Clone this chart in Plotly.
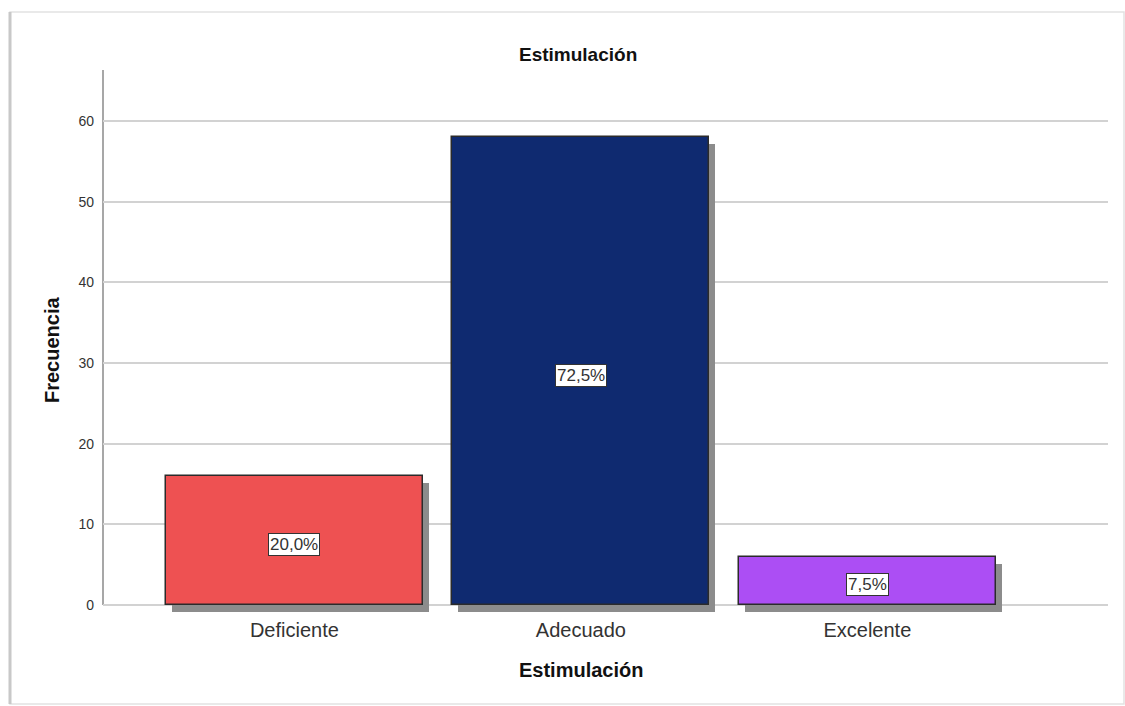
import plotly.graph_objects as go

categories = ["Deficiente", "Adecuado", "Excelente"]
frequencies = [16, 58, 6]
bar_colors = ["#EE5152", "#0F2A70", "#AC4EF4"]
y_ticks = [0, 10, 20, 30, 40, 50, 60]
title_text = "Estimulación"
x_title = "Estimulación"
y_title = "Frecuencia"

total = sum(frequencies)
pct_labels = [f"{v / total * 100:.1f}%".replace(".", ",") for v in frequencies]

W, H = 1125, 706
L, R, T, B = 103, 17, 70, 93
pw, ph = W - L - R, H - T - B
ymin, ymax = -1.0, 66.32
px_per_unit_y = ph / (ymax - ymin)
xmin, xmax = -0.668, 2.84
px_per_unit_x = pw / (xmax - xmin)
bar_w = 0.897
sdx = 6 / px_per_unit_x
sdy = 7 / px_per_unit_y

FONT = "Liberation Sans, Arial"

fig = go.Figure()
# shadows
fig.add_trace(go.Bar(
    x=list(range(len(categories))), y=frequencies, base=[-sdy] * len(frequencies),
    width=bar_w, offset=-bar_w / 2 + sdx,
    marker=dict(color="#8C8C8C", line=dict(width=0)),
    hoverinfo="skip", showlegend=False,
))
# main bars
fig.add_trace(go.Bar(
    x=list(range(len(categories))), y=frequencies, width=bar_w,
    marker=dict(color=bar_colors, line=dict(color="#2b2b2b", width=1.5)),
    showlegend=False,
))

for i, (v, t) in enumerate(zip(frequencies, pct_labels)):
    fig.add_annotation(
        x=i, y=v / 2, xref="x", yref="y", text=t, showarrow=False, yshift=-4,
        font=dict(family=FONT, size=17, color="#333333"),
        bgcolor="white", bordercolor="#333333", borderwidth=1, borderpad=1,
    )

# axis lines
fig.add_shape(type="line", xref="x domain", x0=0, x1=1, yref="y", y0=0, y1=0,
              line=dict(color="#8a8a8a", width=1.5), layer="below")
fig.add_shape(type="line", xref="x domain", x0=0, x1=0, yref="y", y0=0, y1=ymax,
              line=dict(color="#8a8a8a", width=1.5), layer="below")

# outer frame
fx0 = (10 - L) / pw
fx1 = (1124 - L) / pw
fy1 = (H - B - 12) / ph
fy0 = (H - B - 704) / ph
fig.add_shape(type="rect", xref="paper", yref="paper", x0=fx0, x1=fx1, y0=fy0, y1=fy1,
              line=dict(color="#e2e2e2", width=1.5), layer="below")
fig.add_shape(type="line", xref="paper", yref="paper", x0=fx0, x1=fx0, y0=fy0, y1=fy1,
              line=dict(color="#c8c8c8", width=3), layer="below")

title_x = (578 - L) / pw
fig.add_annotation(text=f"<b>{title_text}</b>", xref="paper", yref="paper",
                   x=title_x, y=(H - B - 54) / ph, showarrow=False, xanchor="center", yanchor="middle",
                   font=dict(family=FONT, size=19, color="#111111"))
fig.add_annotation(text=f"<b>{x_title}</b>", xref="paper", yref="paper",
                   x=(581 - L) / pw, y=(H - B - 670) / ph, showarrow=False, xanchor="center", yanchor="middle",
                   font=dict(family=FONT, size=20, color="#111111"))
fig.add_annotation(text=f"<b>{y_title}</b>", xref="paper", yref="paper",
                   x=(52 - L) / pw, y=(H - B - 350) / ph, showarrow=False, textangle=-90,
                   xanchor="center", yanchor="middle",
                   font=dict(family=FONT, size=20, color="#111111"))

fig.update_layout(
    width=W, height=H, margin=dict(l=L, r=R, t=T, b=B, pad=0),
    paper_bgcolor="white", plot_bgcolor="white", bargap=0,
    font=dict(family=FONT, color="#333333"),
    xaxis=dict(range=[xmin, xmax], tickvals=list(range(len(categories))), ticktext=categories,
               showgrid=False, zeroline=False, showline=False, ticks="",
               tickfont=dict(size=20, color="#333333"), ticklabelstandoff=3),
    yaxis=dict(range=[ymin, ymax], tickvals=y_ticks, showgrid=True, gridcolor="#d2d2d2",
               gridwidth=1.5, zeroline=False, showline=False, ticks="",
               tickfont=dict(size=14, color="#333333"), ticklabelstandoff=8),
)

fig.write_html("out.html", config={"displayModeBar": False},
               post_script="document.body.style.margin='0';document.body.style.overflow='hidden';")
